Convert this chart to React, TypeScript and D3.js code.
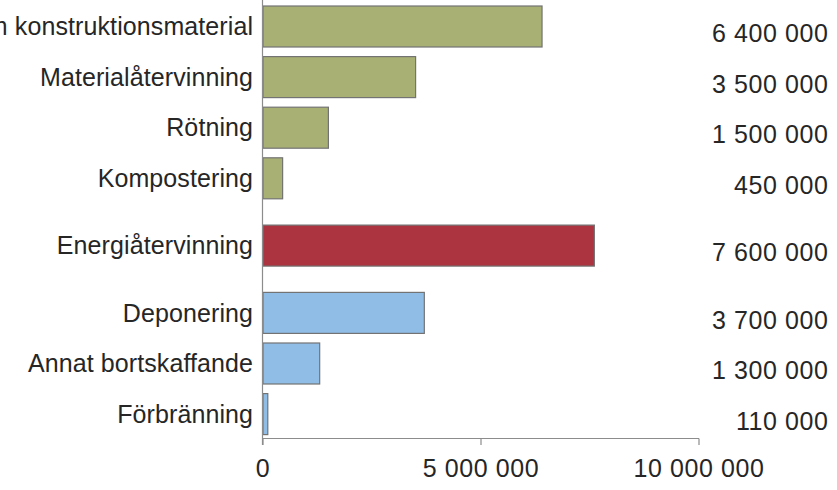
import React from "react";
import * as d3 from "d3";

const categories = [
  "Användning som konstruktionsmaterial",
  "Materialåtervinning",
  "Rötning",
  "Kompostering",
  "Energiåtervinning",
  "Deponering",
  "Annat bortskaffande",
  "Förbränning",
];
const values = [6400000, 3500000, 1500000, 450000, 7600000, 3700000, 1300000, 110000];
const groups = [0, 0, 0, 0, 1, 2, 2, 2];
const groupColors = ["#a8b073", "#ab3440", "#8fbde6"];
const xTicks = [0, 5000000, 10000000];

const W = 837;
const H = 490;
const fmt = (v: number) => d3.format(",")(v).replace(/,/g, " ");

export default function App() {
  const x = d3.scaleLinear().domain([0, 10000000]).range([263, 699]);
  const step = 50.6;
  const groupGap = 0.33;
  const slot = d3.scaleLinear().domain([0, 1]).range([6, 6 + step]);
  const barH = 41;
  const yPos = (i: number) => slot(i + groups[i] * groupGap);
  const axisY = 438.5;
  const font = "Liberation Sans, Arial, sans-serif";
  const fs = 25;
  const ls = 0.1;
  const lsNum = 0.6;

  return (
    <svg
      width={W}
      height={H}
      style={{ position: "absolute", left: 0, top: 0, background: "#fff" }}
      fontFamily={font}
    >
      {categories.map((c, i) => {
        const y0 = yPos(i);
        return (
          <g key={c}>
            <rect
              x={x(0)}
              y={y0}
              width={x(values[i]) - x(0)}
              height={barH}
              fill={groupColors[groups[i]]}
              stroke="#737373"
              strokeWidth={1.2}
            />
            <text
              x={253 + ls}
              y={y0 + barH / 2}
              dy="0.35em"
              textAnchor="end"
              fontSize={fs}
              fill="#262626"
              letterSpacing={ls}
            >
              {c}
            </text>
            <text
              x={828 + lsNum}
              y={y0 + barH / 2 + 7}
              dy="0.35em"
              textAnchor="end"
              fontSize={fs}
              fill="#262626"
              letterSpacing={lsNum}
            >
              {fmt(values[i])}
            </text>
          </g>
        );
      })}
      <line x1={262.5} x2={262.5} y1={0} y2={445} stroke="#8c8c8c" strokeWidth={1.2} />
      <line x1={262.5} x2={x(10000000)} y1={axisY} y2={axisY} stroke="#8c8c8c" strokeWidth={1.2} />
      {xTicks.map((t) => (
        <g key={t}>
          <line x1={x(t)} x2={x(t)} y1={axisY} y2={445} stroke="#8c8c8c" strokeWidth={1.2} />
          <text
            x={x(t)}
            y={477}
            textAnchor="middle"
            fontSize={fs}
            fill="#262626"
            letterSpacing={lsNum}
          >
            {fmt(t)}
          </text>
        </g>
      ))}
    </svg>
  );
}
